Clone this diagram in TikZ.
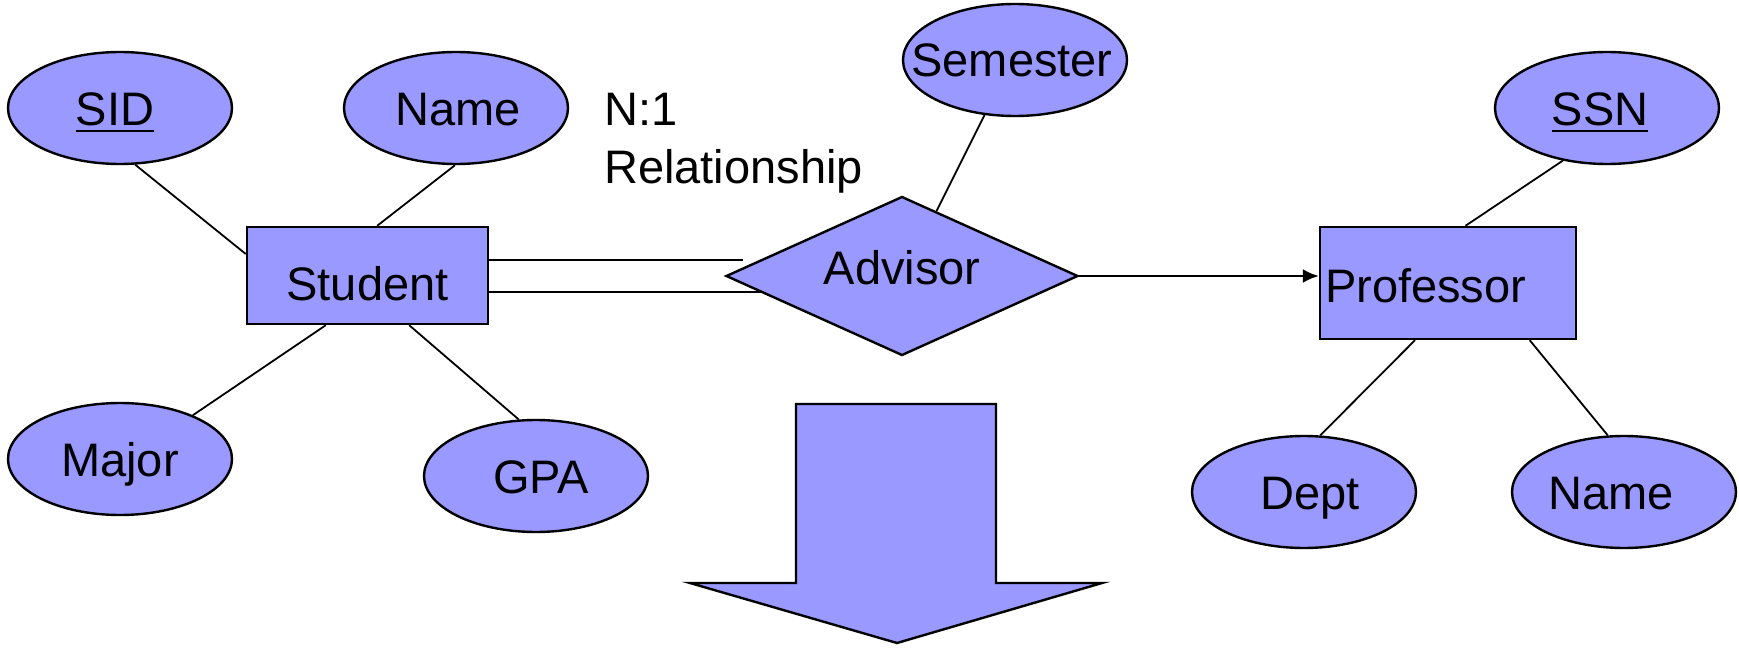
\documentclass[tikz,border=0pt]{standalone}
\usepackage{fontspec}
\setmainfont{Liberation Sans}
\usetikzlibrary{shapes.geometric,arrows.meta,calc}
\definecolor{erfill}{RGB}{153,153,255}
% underlined key attribute
\newcommand{\keyattr}[1]{\setbox0\hbox{#1}\rlap{\rule[-7pt]{\wd0}{2.4pt}}\box0}
% attribute label in a zero-width box, moved sideways by half of #1
\newcommand{\attrtext}[2]{\makebox[0pt]{\hspace{#1}#2}}
\begin{document}
\begin{tikzpicture}[x=1pt,y=-1pt,
  every node/.style={font=\fontsize{47}{57}\selectfont},
  shapeline/.style={draw=black, line width=2.4pt, fill=erfill},
  attr/.style={shapeline, ellipse, minimum width=224pt, minimum height=112pt,
    inner sep=0pt, text height=34pt, text depth=0pt},
  entity/.style={shapeline, rectangle, inner sep=0pt, text depth=0pt},
  relship/.style={shapeline, diamond, minimum width=352pt, minimum height=159pt,
    inner sep=0pt, shape aspect=2.2},
  link/.style={draw=black, line width=1.8pt},
  dbl/.style={draw=black, line width=2.2pt},
  caption/.style={anchor=base west, inner sep=0pt}
]
\useasboundingbox (0,0) rectangle (1739,650);

% attributes
\node[attr] (sid)   at (120,108)  {\attrtext{-10pt}{\keyattr{SID}}};
\node[attr] (sname) at (456,108)  {\attrtext{4pt}{Name}};
\node[attr] (major) at (120,459)  {\attrtext{0pt}{Major}};
\node[attr] (gpa)   at (536,476)  {\attrtext{10pt}{GPA}};
\node[attr] (sem)   at (1015,60)  {\attrtext{-6pt}{Semester}};
\node[attr] (ssn)   at (1607,108) {\attrtext{-14pt}{\keyattr{SSN}}};
\node[attr] (dept)  at (1304,492) {\attrtext{12pt}{Dept}};
\node[attr] (pname) at (1624,492) {\attrtext{-26pt}{Name}};

% entities
\node[entity, minimum width=241pt, minimum height=97pt, text height=50pt]
  (student) at (367.5,275.5) {Student};
\node[entity, minimum width=256pt, minimum height=112pt, text width=246pt,
  align=left, text height=38pt] (prof) at (1448,283) {Professor};

% relationship
\node[relship, text height=34pt, text depth=18pt] (adv) at (902,276) {Advisor};

% cardinality note
\node[caption] (card)    at (604,126) {N:1};
\node[caption] (cardtxt) at (604,183) {Relationship};

% attribute links
\draw[link] (sid.-75)    -- (student.170);
\draw[link] (sname.-91)  -- (student.79);
\draw[link] (major.31)   -- (student.-130);
\draw[link] (gpa.107)    -- (student.-50);
\draw[link] (sem.-119)   -- (adv.62);
\draw[link] (ssn.-130)   -- (prof.73);
\draw[link] (dept.74)    -- (prof.-120);
\draw[link] (pname.106)  -- (prof.-35);

% total participation (double line)
\coordinate (dlA) at (743,260);
\coordinate (dlB) at (761,292);
\draw[dbl] (student.east |- dlA) -- (dlA);
\draw[dbl] (student.east |- dlB) -- (dlB);

% key constraint arrow
\draw[link, line width=2.4pt, -{Latex[length=16pt,width=14pt]}]
  (adv.east) -- (adv.east -| prof.west);

% block arrow
\draw[shapeline] (796,404) -- (996,404) -- (996,583) -- (1102,583)
  -- (897,643) -- (690,583) -- (796,583) -- cycle;
\end{tikzpicture}
\end{document}
